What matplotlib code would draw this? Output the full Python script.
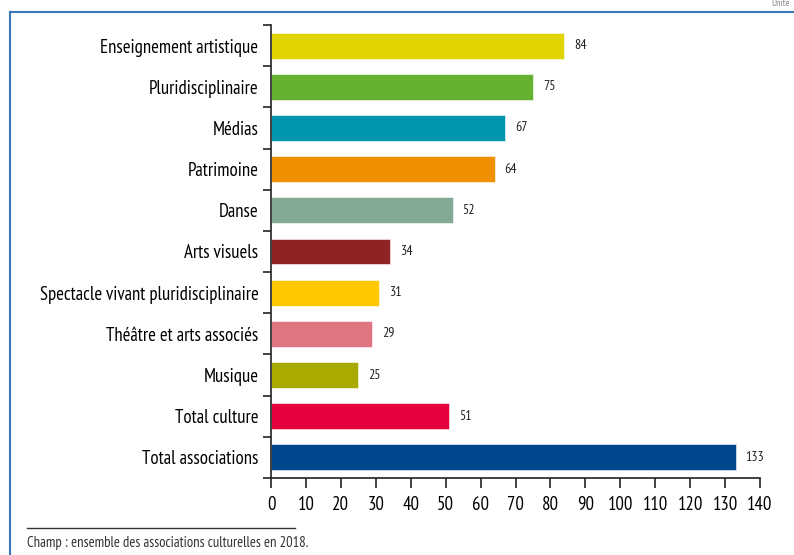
import numpy as np
import matplotlib
matplotlib.use('Agg')
import matplotlib.pyplot as plt
from matplotlib.lines import Line2D

plt.rcParams['font.family'] = ['PT Sans Narrow', 'DejaVu Sans']

categories = ['Enseignement artistique', 'Pluridisciplinaire', 'Médias', 'Patrimoine',
              'Danse', 'Arts visuels', 'Spectacle vivant pluridisciplinaire',
              'Théâtre et arts associés', 'Musique', 'Total culture', 'Total associations']
values = [84, 75, 67, 64, 52, 34, 31, 29, 25, 51, 133]
colors = ['#E0D400', '#66B032', '#0096AE', '#F09000', '#84AA96', '#8E2323',
          '#FFC800', '#E07582', '#A8AA00', '#E4003C', '#00468C']
xticks = list(range(0, 141, 10))
note = 'Champ : ensemble des associations culturelles en 2018.'

fig = plt.figure(figsize=(7.94, 5.55), dpi=100)
ax = fig.add_axes([271 / 794, 1 - 478 / 555, (760 - 271) / 794, (478 - 25) / 555])

y = np.arange(len(categories))
ax.barh(y, values, height=0.63, color=colors, edgecolor='white', linewidth=0.4)
for yi, v in zip(y, values):
    ax.text(v + 2.8, yi, str(v), va='center', ha='left', fontsize=10, color='#222222')

ax.set_ylim(len(categories) - 0.5, -0.5)
ax.set_xlim(0, 140)
ax.set_xticks(xticks)
ax.set_xticklabels([str(t) for t in xticks], fontsize=13.5)
ax.set_yticks(y)
ax.set_yticklabels(categories, fontsize=13.5)
ax.set_yticks(np.arange(-0.5, len(categories), 1), minor=True)
ax.tick_params(axis='y', which='major', length=0, pad=9)
ax.tick_params(axis='y', which='minor', length=6, width=1.2, direction='out', color='#222222')
ax.tick_params(axis='x', length=7, width=1.2, direction='out', color='#222222', pad=6)
for s in ['top', 'right']:
    ax.spines[s].set_visible(False)
for s in ['left', 'bottom']:
    ax.spines[s].set_linewidth(1.2)
    ax.spines[s].set_color('#222222')

# blue frame (top + left)
fig.add_artist(Line2D([10 / 794, 10 / 794], [0, 1 - 12 / 555], color='#3A78B8', lw=1.5))
fig.add_artist(Line2D([10 / 794, 1], [1 - 12 / 555, 1 - 12 / 555], color='#3A78B8', lw=1.5))

# footnote
fig.add_artist(Line2D([27 / 794, 295 / 794], [1 - 528 / 555, 1 - 528 / 555], color='#333333', lw=1.0))
fig.text(27 / 794, 1 - 543 / 555, note, fontsize=10.5, color='#333333', va='center', ha='left')
fig.text(790 / 794, 1 - 4 / 555, 'Unité', fontsize=7, color='#888888', va='center', ha='right')

fig.savefig('out.png', dpi=100)
